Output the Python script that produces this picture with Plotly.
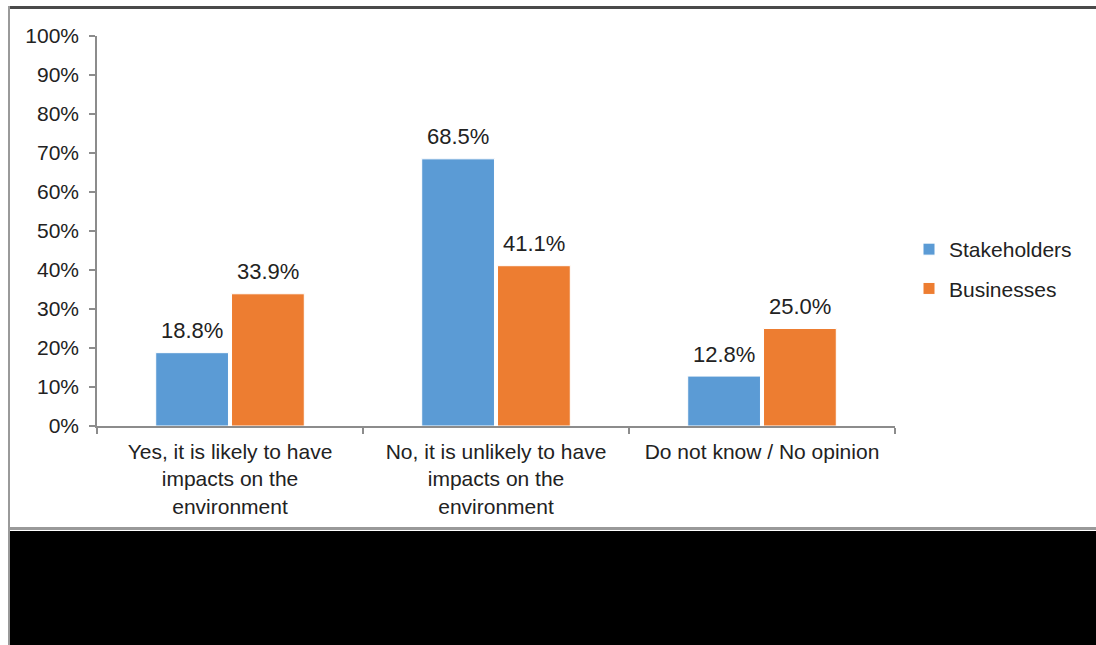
import plotly.graph_objects as go

categories = [
    "Yes, it is likely to have<br>impacts on the<br>environment",
    "No, it is unlikely to have<br>impacts on the<br>environment",
    "Do not know / No opinion",
]
stakeholders = [18.8, 68.5, 12.8]
businesses = [33.9, 41.1, 25.0]
series_names = ["Stakeholders", "Businesses"]
colors = ["#5B9BD5", "#ED7D31"]

FONT = "Liberation Sans, Arial, sans-serif"
TXT = "#222222"

fig = go.Figure()
for name, vals, col in zip(series_names, [stakeholders, businesses], colors):
    fig.add_trace(go.Bar(
        x=categories, y=vals, name=name,
        marker=dict(color=col, line=dict(color="white", width=1)),
        legendgroup=name,
    ))

# value labels
for i, (name, vals) in enumerate(zip(series_names, [stakeholders, businesses])):
    shift = -38 if i == 0 else 38
    for c, v in zip(categories, vals):
        fig.add_annotation(x=c, y=v, text=f"{v:.1f}%", showarrow=False,
                           xshift=shift, yshift=22, yanchor="middle",
                           font=dict(family=FONT, size=22, color=TXT))

# geometry helpers in page pixels (body margin removed below)
FW, FH = 1096, 645
PL, PR, PT, PB = 97, 895, 36, 426          # plot area
L, T, R, B = PL, PT, FW - PR, FH - PB
W, H = PR - PL, PB - PT
px = lambda x: (x - PL) / W
py = lambda y: (PB - y) / H

shapes = [
    dict(type="rect", xref="paper", yref="paper", x0=px(10), x1=px(1110),
         y0=py(531), y1=py(660), fillcolor="black", line=dict(width=0), layer="above"),
    dict(type="line", xref="paper", yref="paper", x0=px(10), x1=px(1110),
         y0=py(528.5), y1=py(528.5), line=dict(color="#999999", width=3)),
    dict(type="line", xref="paper", yref="paper", x0=px(8), x1=px(1110),
         y0=py(7.5), y1=py(7.5), line=dict(color="#4a4a4a", width=3)),
    dict(type="line", xref="paper", yref="paper", x0=px(9), x1=px(9),
         y0=py(6), y1=py(660), line=dict(color="#9a9a9a", width=2)),
]

fig.update_layout(
    width=FW, height=FH,
    margin=dict(l=L, r=R, t=T, b=B, autoexpand=False),
    paper_bgcolor="white", plot_bgcolor="white",
    barmode="group", bargap=0.43, bargroupgap=0.04,
    font=dict(family=FONT, size=21, color=TXT),
    shapes=shapes,
    legend=dict(x=px(909), y=py(269), xanchor="left", yanchor="middle",
                font=dict(family=FONT, size=21, color=TXT),
                tracegroupgap=9, traceorder="grouped",
                bgcolor="rgba(0,0,0,0)"),
    showlegend=True,
)
fig.update_yaxes(range=[0, 100], dtick=10, ticksuffix="%", showgrid=False,
                 showline=True, linecolor="#8c8c8c", linewidth=1.5,
                 ticks="outside", ticklen=6, tickcolor="#8c8c8c", tickwidth=1.5,
                 ticklabelstandoff=6, zeroline=False,
                 tickfont=dict(family=FONT, size=21, color=TXT))
fig.update_xaxes(showgrid=False, showline=True, linecolor="#8c8c8c", linewidth=1.5,
                 ticks="outside", tickson="boundaries", ticklen=6,
                 tickcolor="#8c8c8c", tickwidth=1.5, ticklabelstandoff=6,
                 tickfont=dict(family=FONT, size=21, color=TXT))

fig.write_html(
    "out.html",
    config={"displayModeBar": False},
    post_script="document.body.style.margin='0';document.body.style.overflow='hidden';",
)
